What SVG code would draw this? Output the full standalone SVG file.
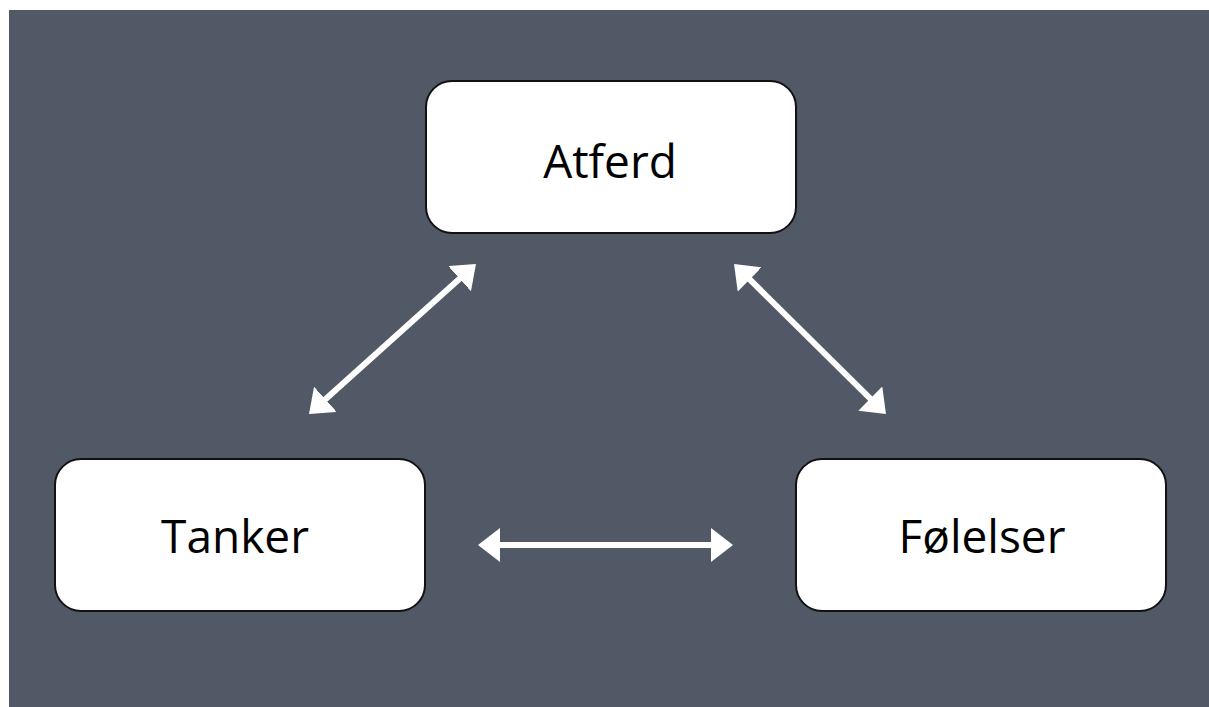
<svg xmlns="http://www.w3.org/2000/svg" width="1209" height="707" viewBox="0 0 1209 707">
  <style>
    .box { fill: #ffffff; stroke: #111111; stroke-width: 2; }
    .label { font-family: "Open Sans", "Liberation Sans", sans-serif; font-size: 46px; fill: #000000; text-anchor: middle; }
    .link { stroke: #ffffff; stroke-width: 6; fill: none; marker-start: url(#head); marker-end: url(#head); }
  </style>
  <defs>
    <!-- solid white arrowhead; tip reaches 6px past the shaft end so the butt cap stays hidden -->
    <marker id="head" viewBox="0 0 22 34" refX="16" refY="17" markerWidth="22" markerHeight="34" orient="auto-start-reverse" markerUnits="userSpaceOnUse">
      <path d="M0,0 L22,17 L0,34 Z" fill="#ffffff"/>
    </marker>
  </defs>
  <rect x="0" y="0" width="1209" height="707" fill="#ffffff"/>
  <rect x="9" y="10" width="1200" height="697" fill="#525966"/>

  <g id="connectors">
    <line class="link" x1="313.5" y1="410" x2="471.5" y2="268"/>
    <line class="link" x1="738.3" y1="268.2" x2="881.7" y2="409.8"/>
    <line class="link" x1="484" y1="545" x2="727" y2="545"/>
  </g>

  <g id="atferd">
    <rect class="box" x="426" y="81" width="370" height="152" rx="26"/>
    <text class="label" x="610" y="178">Atferd</text>
  </g>
  <g id="tanker">
    <rect class="box" x="55" y="459" width="370" height="152" rx="26"/>
    <text class="label" x="235" y="553">Tanker</text>
  </g>
  <g id="folelser">
    <rect class="box" x="796" y="459" width="370" height="152" rx="26"/>
    <text class="label" x="982" y="553">Følelser</text>
  </g>
</svg>
